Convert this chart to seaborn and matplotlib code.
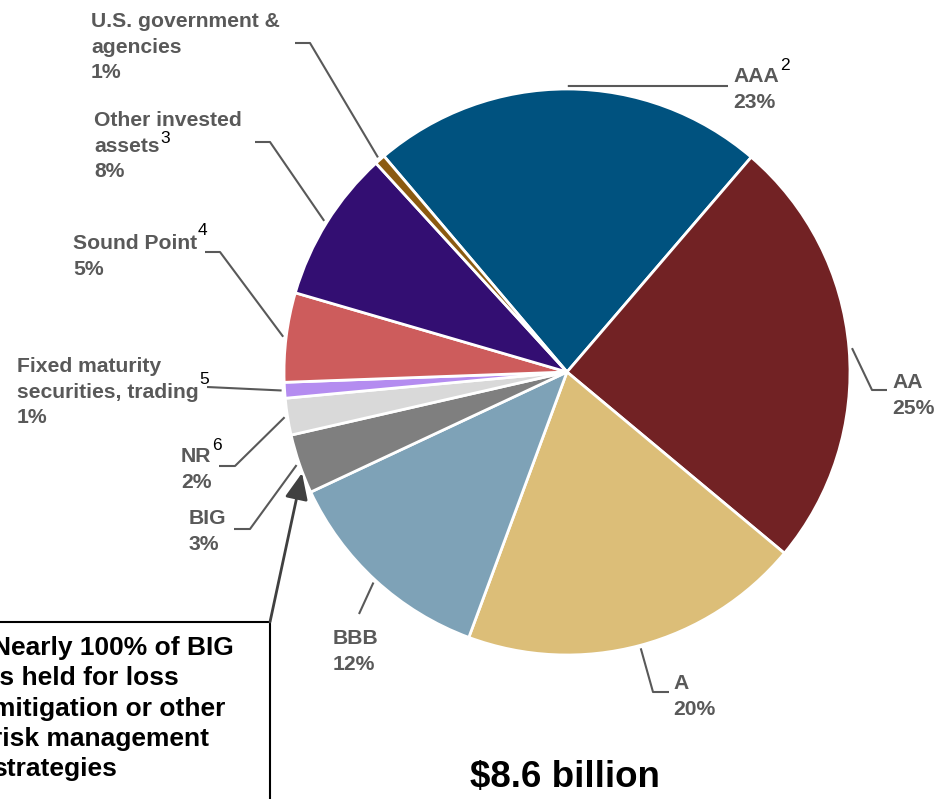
import numpy as np
import matplotlib
matplotlib.use('Agg')
import matplotlib.pyplot as plt
import seaborn as sns
from matplotlib.patches import Rectangle

# ---------------- data ----------------
categories = ['AAA', 'AA', 'A', 'BBB', 'BIG', 'NR',
              'Fixed maturity securities, trading', 'Sound Point',
              'Other invested assets', 'U.S. government & agencies']
shares = [22.5, 24.8, 19.6, 12.4, 3.4, 2.1, 0.9, 5.1, 8.7, 0.6]
pct_labels = ['23%', '25%', '20%', '12%', '3%', '2%', '1%', '5%', '8%', '1%']
label_lines = [['AAA'], ['AA'], ['A'], ['BBB'], ['BIG'], ['NR'],
               ['Fixed maturity', 'securities, trading'], ['Sound Point'],
               ['Other invested', 'assets'], ['U.S. government &', 'agencies']]
footnotes = ['2', '', '', '', '', '6', '5', '4', '3', '']
colors = ['#00527f', '#722224', '#dcbe78', '#7ea2b7', '#7f7f7f', '#d9d9d9',
          '#b48cf0', '#cd5c5c', '#330e72', '#8b5a10']
total_label = '$8.6 billion'
callout_lines = ['Nearly 100% of BIG', 'is held for loss', 'mitigation or other',
                 'risk management', 'strategies']

# ---------------- layout ----------------
label_pos = [(733, 82), (892, 388), (673, 689), (333, 644), (189, 524),
             (181, 462), (17, 372), (73, 249), (94, 126), (91, 27)]
leader_elbow = [None, (872, 390), (653, 692), None, (250, 529),
                (235, 466), None, (220, 252), (270, 142), (310, 43)]
leader_end = [(728, 86), (887, 390), (669, 692), (359, 614), (234, 529),
              (219, 466), (207, 387), (205, 252), (255, 142), (295, 43)]
foot_rise = [12, 0, 0, 0, 0, 12, 14, 14, 9, 0]
LINE = 25.7
GRAY = '#595959'

sns.set_theme(style='white')
plt.rcParams['font.family'] = ['Liberation Sans', 'DejaVu Sans']

fig = plt.figure(figsize=(9.38, 7.99), dpi=100)
ax = fig.add_axes([0, 0, 1, 1])
cx, cy, R = 567, 372, 283
wedges, _ = ax.pie(shares, colors=colors, startangle=-130.3, counterclock=True,
                   center=(cx, cy), radius=R,
                   wedgeprops=dict(edgecolor='white', linewidth=2))
ax.set_xlim(0, 938)
ax.set_ylim(799, 0)
ax.set_aspect('equal')
ax.axis('off')

# labels
line_texts = []
for i, w in enumerate(wedges):
    tm = np.deg2rad((w.theta1 + w.theta2) / 2)
    sx, sy = cx + 286 * np.cos(tm), cy + 286 * np.sin(tm)
    xs, ys = [sx], [sy]
    if leader_elbow[i] is not None:
        xs.append(leader_elbow[i][0]); ys.append(leader_elbow[i][1])
    xs.append(leader_end[i][0]); ys.append(leader_end[i][1])
    ax.plot(xs, ys, color=GRAY, lw=1.5, solid_capstyle='butt')
    x0, y0 = label_pos[i]
    lines = label_lines[i] + [pct_labels[i]]
    last_name = None
    for k, s in enumerate(lines):
        t = ax.text(x0, y0 + k * LINE, s, ha='left', va='baseline',
                    fontsize=15.2, fontweight='bold', color=GRAY)
        if k == len(label_lines[i]) - 1:
            last_name = (t, y0 + k * LINE)
    line_texts.append(last_name)

fig.canvas.draw()
renderer = fig.canvas.get_renderer()
inv = ax.transData.inverted()
for i, fn in enumerate(footnotes):
    if not fn:
        continue
    t, yb = line_texts[i]
    bb = t.get_window_extent(renderer)
    xr, _ = inv.transform((bb.x1, bb.y0))
    ax.text(xr + 1, yb - foot_rise[i], fn, ha='left', va='baseline',
            fontsize=12.5, color='black')

# total
ax.text(565, 787, total_label, ha='center', va='baseline', fontsize=26.5,
        fontweight='bold', color='black')

# callout box
ax.add_patch(Rectangle((-10, 622), 280, 220, fill=False, edgecolor='black',
                       lw=1.5, clip_on=False))
for k, s in enumerate(callout_lines):
    ax.text(-8, 655 + k * 30.3, s, ha='left', va='baseline', fontsize=19,
            fontweight='bold', color='black')
ax.annotate('', xy=(302, 473), xytext=(270, 622),
            arrowprops=dict(arrowstyle='-|>,head_length=0.8,head_width=0.35',
                            color='#404040', lw=2, shrinkA=0, shrinkB=0,
                            mutation_scale=20))

fig.savefig('out.png', dpi=100)
